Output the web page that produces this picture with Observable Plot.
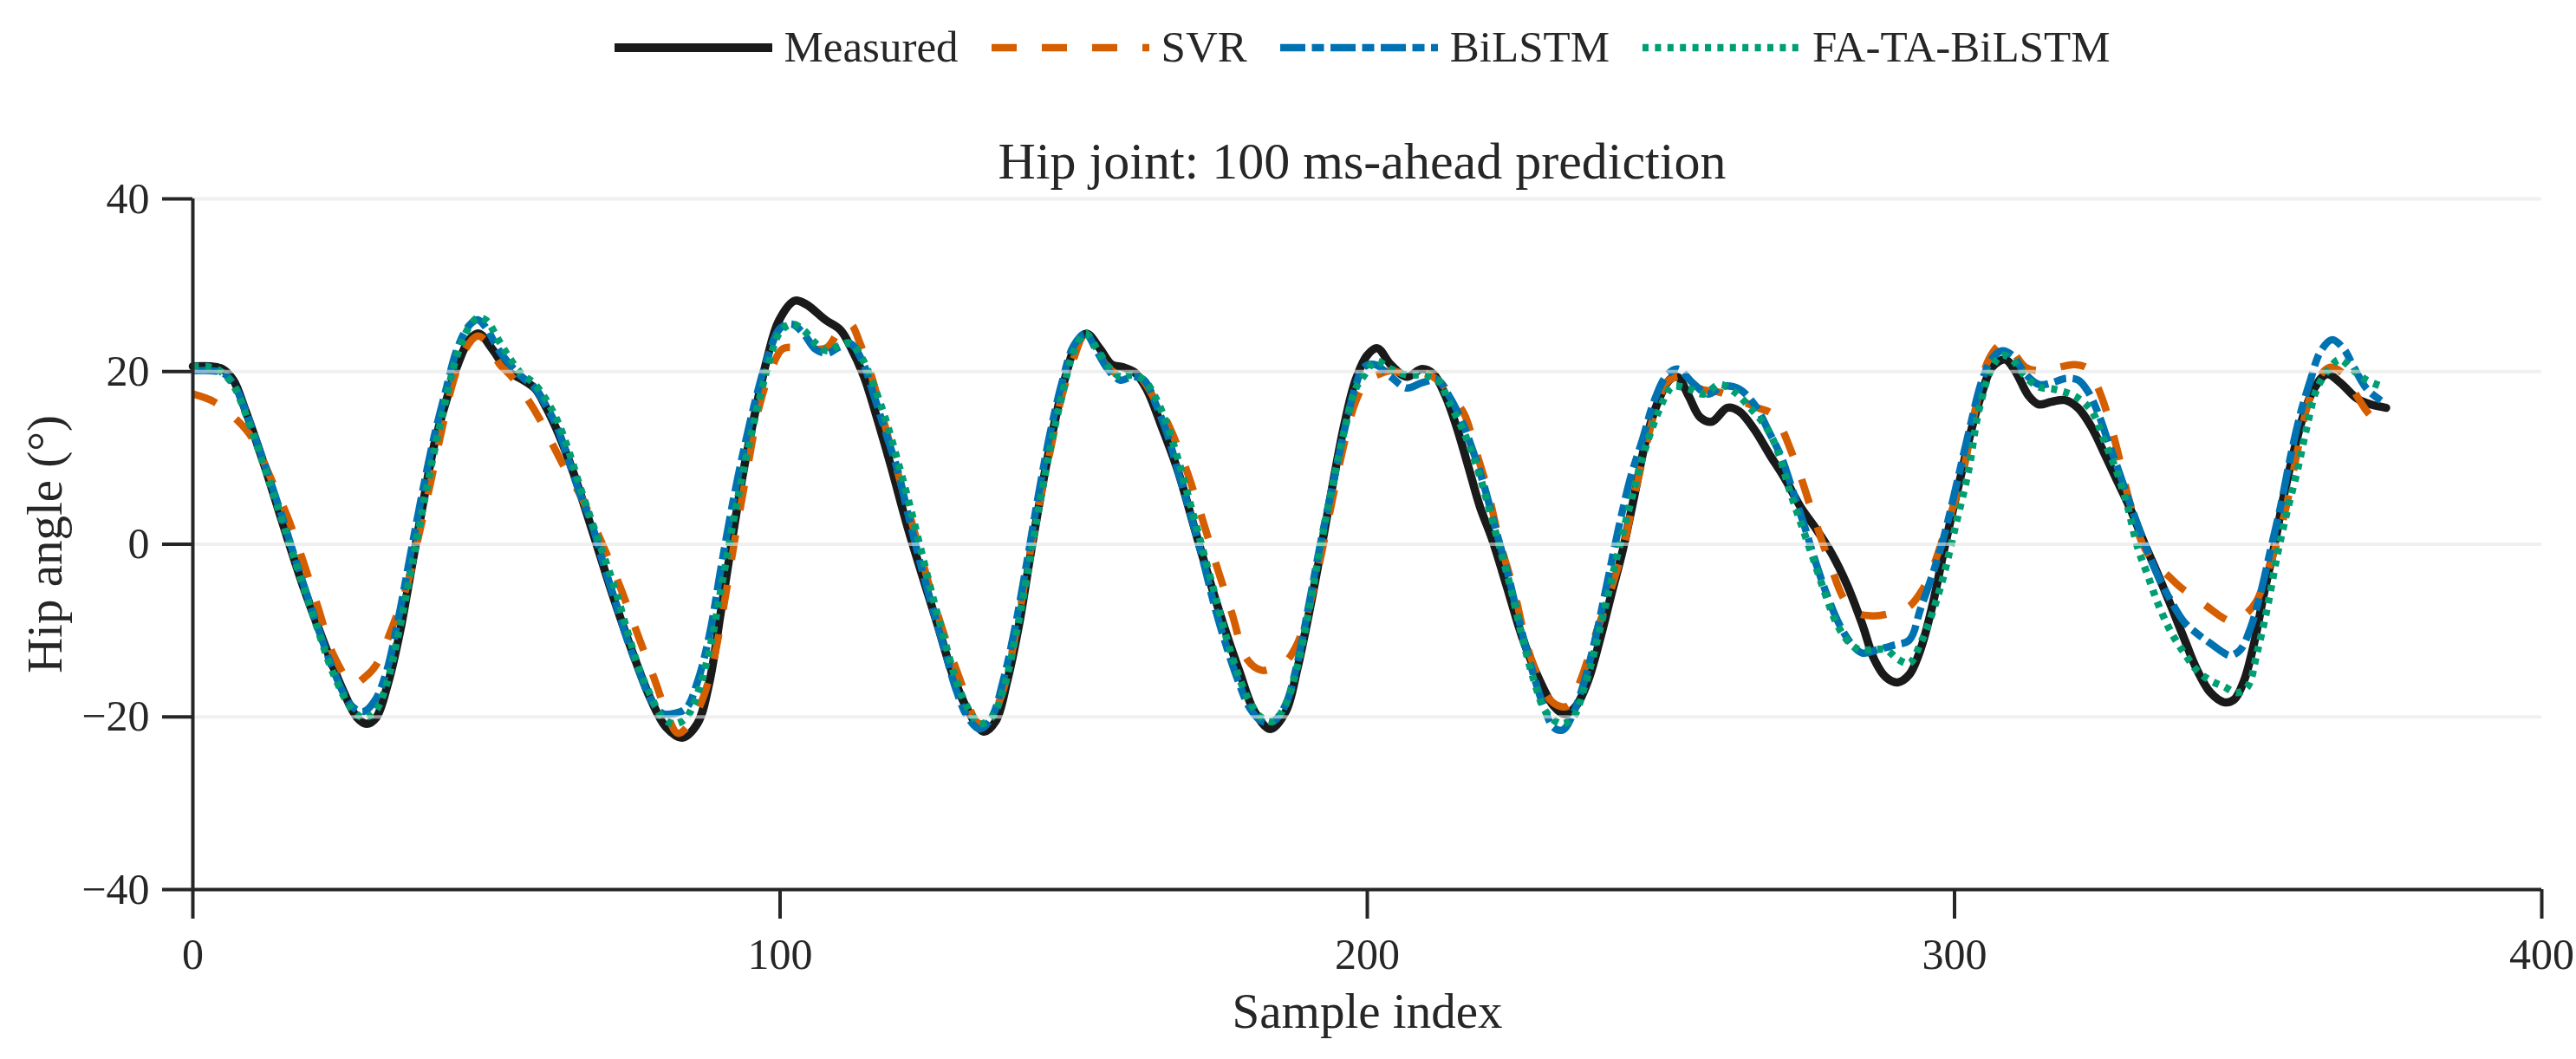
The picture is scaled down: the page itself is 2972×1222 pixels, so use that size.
<!DOCTYPE html>
<html>
<head>
<meta charset="utf-8">
<script src="https://cdn.jsdelivr.net/npm/d3@7"></script>
<script src="https://cdn.jsdelivr.net/npm/@observablehq/plot@0.6"></script>
<style>
  html, body { margin: 0; padding: 0; background: #fff; }
  #wrap { position: relative; width: 2972px; height: 1222px; font-family: "Liberation Serif", "Times New Roman", serif; color: #262626; background: #fff; }
  #chart { position: absolute; top: 200px; left: 0; z-index: 0; }
  #legend { position: absolute; top: 29px; left: 212px; width: 2719px; display: flex; justify-content: center; align-items: center; font-size: 51px; line-height: 51px; z-index: 1; }
  .item { display: flex; align-items: center; margin: 0 19px; }
  .item span { margin-left: 14px; white-space: nowrap; }
  #title { position: absolute; top: 156px; left: 212px; width: 2719px; text-align: center; font-size: 60px; line-height: 60px; white-space: nowrap; z-index: 1; }
</style>
</head>
<body>
<div id="wrap">
  <div id="chart"></div>
  <div id="legend"></div>
  <div id="title"></div>
</div>
<script>
// ---- text ----
const titleText = "Hip joint: 100 ms-ahead prediction";
const xLabel = "Sample index";
const yLabel = "Hip angle (°)";
const seriesNames = ["Measured", "SVR", "BiLSTM", "FA-TA-BiLSTM"];
const seriesColors = ["#1a1a1a", "#D55E00", "#0072B2", "#009E73"];
const seriesDash = [null, "29,29", "29,7.5,14,7.5", "7,7.4"];
const seriesWidth = [9.5, 8.5, 8.5, 8.5];
const xTicks = [0, 100, 200, 300, 400];
const yTicks = [-40, -20, 0, 20, 40];
const gridValues = [-20, 0, 20, 40];

// ---- data: [sample index, hip angle] ----
const measured = [[0,20.6],[3,20.6],[5,20.3],[6.9,19.0],[8.8,15.8],[12.1,9.3],[15.4,2.2],[18.7,-4.7],[22,-10.8],[25.3,-16.5],[28,-20.1],[29.6,-20.8],[31.2,-20.1],[33.2,-16.2],[35.2,-10.4],[37.2,-2.9],[39.2,4.7],[41.1,11.5],[43.1,16.5],[45.1,20.8],[47.1,23.7],[48.7,24.4],[51,22.6],[53.6,20.1],[56.3,19.0],[58.3,18.0],[60.2,15.8],[62.2,12.9],[64.8,8.3],[68.1,1.4],[71.4,-5.7],[74.7,-12.2],[78,-18],[80.6,-21.2],[83.3,-22.4],[85.9,-20.8],[87.9,-16.2],[89.9,-7.9],[91.8,0.4],[93.8,8.6],[95.8,15.4],[97.8,21.5],[99.8,25.9],[102.5,28.2],[104.4,27.8],[107.7,26],[110.3,24.8],[111.9,23],[114.3,19.4],[116.3,15.1],[118.9,9.0],[121.5,2.5],[124.2,-3.6],[126.8,-9.3],[129.4,-15.1],[132.1,-19.4],[134.7,-21.7],[136.7,-20.5],[138.7,-15.8],[140.7,-9.3],[142.6,-1.4],[144.6,6.5],[146.6,13.6],[148.6,19.4],[150.5,23.3],[152.2,24.4],[154.5,22.6],[156.5,20.8],[158.4,20.5],[160.4,19.9],[162.4,18],[165,13.6],[167.7,8.6],[170.3,2.5],[172.9,-3.6],[175.5,-9.3],[178.2,-14.7],[180.8,-19.4],[183.5,-21.4],[186.1,-19.4],[188.1,-14.4],[190.1,-7.9],[192.1,-0.7],[194,6.5],[196,13.6],[198,19.0],[200,21.9],[201.7,22.7],[204,20.8],[206.7,19.4],[209.3,20.3],[211.3,19.7],[213.3,17.2],[215.2,13.6],[217.2,9],[219.2,4.3],[221.2,0.7],[223.8,-5],[226.4,-10.8],[229.1,-15.4],[231.7,-18.7],[233.7,-19.7],[235.6,-18.7],[237.6,-15.8],[239.6,-11.1],[241.6,-5.7],[243.5,-0.7],[245.5,5.7],[247.5,12.2],[249.5,16.5],[251.4,19.0],[252.8,19.4],[254.7,17.2],[256.7,14.7],[258.7,14.2],[261.3,15.8],[263.3,15.4],[265.9,13.3],[268.5,10.4],[271.2,7.5],[273.8,4.3],[276.4,1.8],[279.1,-1.1],[281.7,-4.7],[284.3,-9.3],[286.3,-13.3],[288.3,-15.4],[290.3,-16],[292.3,-15.1],[294.2,-12.2],[296.2,-7.2],[298.2,-0.7],[299.6,3.6],[301.3,8.6],[303,13.6],[304.7,17.6],[306.4,20.5],[308.6,21.4],[310.3,20.1],[312.6,17.2],[314.3,16.2],[316.5,16.5],[318.8,16.7],[321,15.8],[323.3,13.6],[325.6,10.4],[327.8,7.2],[330,4],[332.4,0],[334.7,-3.6],[336.9,-7.2],[339.2,-11.1],[341.4,-14.7],[343.6,-17.2],[345.9,-18.3],[347.6,-18],[349.3,-15.8],[351,-11.5],[352.7,-5.7],[354.4,-0.4],[356.1,5.7],[357.8,10.8],[359.5,15.1],[361.2,18],[363.4,19.7],[365.7,18.7],[368.5,16.9],[370.8,16.2],[373.5,15.8]];

const svr = [[0,17.4],[3.6,16.5],[7.5,14.4],[10.2,12.2],[13.1,7.9],[16.1,3.2],[18.7,-1.8],[21.4,-7.5],[24,-12.9],[27.3,-16.2],[29.3,-15.4],[31.2,-14],[33.9,-9.7],[36.5,-4.7],[38.5,1.1],[40.5,7.2],[42.5,13.6],[44.4,19.0],[46.4,22.6],[48.4,24.1],[49.7,23.7],[52.3,20.8],[54.3,19.4],[56.9,16.9],[58.9,14.7],[61.6,11.1],[63.5,8.6],[66.2,5.4],[69.5,0.4],[72.8,-5.0],[76.1,-11.1],[78.7,-15.8],[80.6,-19.4],[82.6,-21.9],[84.6,-20.8],[86.6,-18.3],[88.5,-14],[90.5,-6.8],[92.5,1.4],[94.4,8.6],[96.4,15.8],[98.4,20.1],[100.4,22.6],[102.4,22.8],[105,22.6],[108,22.8],[110.5,25.2],[112,25.5],[113.6,23.3],[115.6,19.4],[117.6,14.4],[120.2,7.9],[122.9,1.4],[125.5,-5],[128.1,-10.8],[130.7,-15.8],[133.4,-20.5],[134.8,-21],[136,-20.1],[138,-16.9],[140,-10.8],[142,-3.2],[144,4.3],[146,10.8],[148,17.2],[150,21.5],[151.8,24.1],[153.8,22.6],[155.8,20.5],[158.4,19.4],[161.1,19.4],[163.7,16.9],[166.3,13.6],[169,9],[171.6,3.6],[174.2,-2.2],[176.9,-7.9],[179.5,-13.3],[182,-14.6],[184,-14.3],[186.1,-13.6],[188.1,-11.5],[190.1,-7.2],[192.1,-1.4],[194,5],[196,11.5],[198,16.5],[200,19.0],[202,19.7],[204,20.1],[206.7,19.7],[209.3,19.9],[212,19.0],[214.6,16.9],[216.5,15.1],[218.5,10.8],[220.4,6.5],[222.4,0.7],[225.1,-5.7],[227.1,-11.5],[229.1,-15.4],[231.1,-18],[233,-18.8],[234.3,-18.7],[236.3,-15.8],[238.9,-10.4],[240.9,-6.5],[243.6,-0.4],[245.5,5.7],[247.5,11.5],[249.5,16.5],[251.4,19],[254.1,19.4],[256.7,18],[260,17.6],[263.3,16.7],[266.5,15.8],[269.1,15.0],[272.8,9.7],[275.5,4.3],[278.3,-1.3],[281.4,-6.6],[283.6,-8.0],[286.3,-8.3],[289.6,-7.9],[292.3,-7.2],[294.6,-5.2],[296.2,-2.9],[298.2,1.1],[301.3,7.9],[303.6,15.8],[305.9,21.5],[308.1,23.2],[309.8,22.4],[312.1,20.5],[314.9,20.1],[317.8,20.5],[320.5,20.8],[322.8,20.3],[324.5,18],[326.2,14.7],[327.9,10.4],[329.5,5.7],[331.8,0.4],[334,-2.2],[336.3,-3.6],[338.5,-5],[340.8,-6.1],[343,-7.2],[345.9,-8.6],[347.6,-9],[349.9,-7.9],[351.5,-6.5],[353.3,-3.2],[355,0.4],[356.7,5],[358.4,10.8],[360,15.8],[361.7,19],[364,20.5],[366.3,19.7],[368.5,17.2],[370.2,15.4],[371.6,14.3]];

const bilstm = [[0,20.1],[3,20.1],[5,19.9],[7,18.5],[9,15.4],[12,9.7],[15,3.6],[18,-2.9],[21,-9],[24,-14.7],[27,-18.7],[29,-19.4],[31,-18.1],[33,-14.7],[35,-8.6],[37,-1.4],[39,5.7],[41,12.2],[43,17.6],[45,22.6],[47,25.3],[48.5,26],[50,25],[52,22.6],[54,20.8],[56,19.4],[58,18.3],[60,16.2],[62,13.6],[64,9.7],[66,5.7],[68,2.2],[70,-2.5],[72,-6.8],[74,-11.1],[76,-14.7],[78,-18],[80,-19.6],[82,-19.6],[84,-19],[86,-15.8],[88,-10.4],[90,-2.5],[92,5],[94,11.5],[96,17.2],[98,21.9],[100,25],[102,25.5],[104,24.4],[106,22.6],[108,22.1],[110,22.8],[112,23.2],[114,21.2],[116,17.2],[118,12.9],[120,8.6],[122,2.9],[124,-2.5],[126,-7.5],[128,-12.2],[130,-16.9],[132,-20.1],[134,-21.4],[136,-20.1],[138,-15.8],[140,-9.7],[142,-2.2],[144,5.7],[146,12.9],[148,18.7],[150,23],[152,24.4],[154,22.3],[156,20.1],[158,19],[160,19.4],[162,19],[164,16.2],[166,12.6],[168,7.9],[170,3.2],[172,-1.8],[174,-7.2],[176,-11.8],[178,-15.8],[180,-19],[182,-20.5],[184,-20.5],[186,-18.7],[188,-14],[190,-7.2],[192,0],[194,6.5],[196,12.9],[198,18.3],[199.4,20.5],[201.4,20.8],[204,19.4],[206.7,18.1],[209.3,18.7],[212,19],[213.9,17.2],[216,14.4],[218,10.8],[220,6.5],[222,1.4],[224,-3.6],[226,-9.3],[228,-14.4],[230,-18.7],[231.7,-21.2],[233.3,-21.5],[235,-19.7],[237,-15.8],[239,-10.4],[240.9,-4.3],[242.9,2.2],[244.9,7.9],[246.9,12.2],[248.8,16.5],[250.8,19.4],[252.8,20.3],[255.4,18.7],[258,17.4],[260.6,18.3],[263.3,18],[265.9,16.2],[268.5,12.9],[270.5,10.1],[272.5,6.1],[274.4,2.2],[276.4,-2.2],[278.4,-6.1],[280.4,-9.3],[282.4,-11.5],[284.3,-12.6],[287,-12.2],[289.6,-11.7],[292.3,-11.1],[294.2,-7.5],[296.2,-3.6],[298.2,0.9],[300.2,6.5],[302.4,12.9],[304.7,19],[306.4,21.5],[308.1,22.4],[309.8,21.9],[312.1,19.7],[314.4,18.5],[316.6,18.7],[318.9,19.2],[321.1,19],[322.8,17.6],[324.5,15.1],[326.2,11.8],[327.9,8.6],[330.1,4.3],[332.4,0],[334.6,-3.6],[336.8,-6.5],[339.1,-9],[341.4,-10.4],[343.6,-11.5],[345.9,-12.6],[347,-12.9],[348.7,-12.2],[350.4,-9.7],[352.1,-5.7],[353.8,-0.7],[355.5,4.3],[357.2,10.1],[358.9,15.1],[360.6,19],[362.3,22.3],[364.3,23.7],[366.3,22.6],[368,20.5],[370.2,18],[372.5,16.7],[373.6,16.2]];

const fatabilstm = [[0,20.6],[3,20.5],[5,19.9],[7,18.3],[9,15.1],[12,9.3],[15,3.2],[18,-3.2],[21,-9.3],[24,-15.1],[27,-19],[29,-20.1],[31,-19.4],[33,-16.2],[35,-10.4],[37,-3.6],[39,3.6],[41,10.4],[43,16.5],[45,21.9],[47,25.1],[48.5,26.2],[50,25.9],[52,23.7],[54,21.5],[56,19.7],[58,18.7],[60,16.9],[62,14.4],[64,10.8],[66,6.5],[68,2.5],[70,-1.4],[72,-5.4],[74,-10.1],[76,-14.4],[78,-17.6],[80,-20.1],[82,-20.8],[84,-20.1],[86,-17.2],[88,-12.2],[90,-5],[92,2.5],[94,9.3],[96,15.4],[98,20.8],[100,24.6],[102,25.5],[104,24.8],[106,23.3],[108,22.4],[110,23],[112,23.3],[114,21.5],[116,18.3],[118,14.4],[120,9.7],[122,4.7],[124,-0.7],[126,-6.1],[128,-11.1],[130,-15.8],[132,-19],[134,-20.8],[136,-20.1],[138,-16.9],[140,-11.1],[142,-3.9],[144,3.9],[146,11.1],[148,17.2],[150,22.3],[152,24.4],[154,22.6],[156,20.5],[158,19.4],[160,19.6],[162,19],[164,16.9],[166,13.6],[168,9.3],[170,4.3],[172,-0.7],[174,-5.7],[176,-10.8],[178,-15.1],[180,-18.3],[182,-20.1],[184,-20.5],[186,-18.7],[188,-14.4],[190,-7.9],[192,-0.4],[194,6.5],[196,12.9],[198,18],[199.4,19.5],[201.4,21.2],[204,20.3],[206.7,19.6],[209.3,19.6],[212,19],[213.9,16.5],[216.5,12.9],[218.5,9.3],[220.4,5],[222.4,0],[224.4,-5],[226.4,-10.8],[228.4,-15.8],[230.4,-19.4],[233,-20.8],[235,-20.1],[237,-16.5],[239,-11.5],[240.9,-6.1],[242.9,-0.4],[244.9,5],[246.9,10.1],[248.8,14],[250.8,17.2],[252,18.3],[254.7,18],[257.3,17.4],[260,18.5],[262.6,17.6],[265.2,15.8],[267.9,13.6],[269.9,10.8],[271.8,6.5],[273.8,2.5],[275.8,-1.4],[277.8,-5.4],[279.8,-9],[281.7,-11.1],[283.7,-12.2],[286.3,-12.2],[288.3,-12.2],[290.3,-13.3],[292.3,-13.8],[294.2,-11.5],[296.2,-8],[298,-4],[300.2,2.2],[302.4,8.6],[304.1,15.4],[306.4,20.5],[308.1,21.9],[309.8,21.4],[312.1,19.4],[314.4,18.2],[316.6,18],[318.9,17.6],[321.1,16.9],[323.4,15.4],[325.6,11.8],[327.9,7.9],[329.5,4.3],[331.2,-0.4],[332.9,-3.6],[334.6,-6.8],[336.8,-10.1],[339.1,-12.6],[341.4,-14.7],[343.6,-15.8],[345.9,-16.5],[348.1,-17.2],[349.9,-16.5],[351.5,-12.6],[353.3,-7.2],[355,-1.1],[356.7,4],[358.4,8.6],[360,13.6],[361.7,18],[364,20.5],[365.6,21.4],[368,20.1],[370.2,19],[372.7,18.3]];

const seriesData = [measured, svr, bilstm, fatabilstm];

// ---- legend & title (HTML) ----
document.getElementById("title").textContent = titleText;
const legend = d3.select("#legend");
seriesNames.forEach((name, i) => {
  const item = legend.append("div").attr("class", "item");
  const s = item.append("svg").attr("width", 182).attr("height", 20);
  const ln = s.append("line").attr("x1", 0).attr("x2", 182).attr("y1", 10).attr("y2", 10)
    .attr("stroke", seriesColors[i]).attr("stroke-width", i === 0 ? 10 : 8.5);
  if (seriesDash[i]) ln.attr("stroke-dasharray", seriesDash[i]);
  item.append("span").text(name);
});

// ---- chart ----
const font = "'Liberation Serif', 'Times New Roman', serif";
const lineMarks = seriesData.map((data, i) => Plot.line(data, {
  x: d => d[0], y: d => d[1],
  stroke: seriesColors[i],
  strokeWidth: seriesWidth[i],
  strokeDasharray: seriesDash[i] || undefined,
  strokeLinecap: i === 0 ? "round" : "butt",
  strokeLinejoin: "round",
  curve: "catmull-rom"
}));

const chart = Plot.plot({
  width: 2972,
  height: 1022,
  marginLeft: 222,
  marginRight: 40,
  marginTop: 29,
  marginBottom: 196,
  x: {domain: [xTicks[0], xTicks[xTicks.length - 1]]},
  y: {domain: [yTicks[0], yTicks[yTicks.length - 1]]},
  style: {fontFamily: font, fontSize: "50px", color: "#262626", background: "transparent", overflow: "visible"},
  marks: [
    ...lineMarks,
    Plot.ruleY(gridValues, {stroke: "#e6e6e6", strokeOpacity: 0.6, strokeWidth: 4}),
    Plot.ruleX([xTicks[0]], {stroke: "#262626", strokeWidth: 4}),
    Plot.ruleY([yTicks[0]], {stroke: "#262626", strokeWidth: 4}),
    Plot.axisX(xTicks, {tickSize: 34, tickPadding: 22, strokeWidth: 4, fontSize: 50, label: null, stroke: "#262626", fill: "#262626"}),
    Plot.axisY(yTicks, {tickSize: 35, tickPadding: 15, strokeWidth: 4, fontSize: 50, label: null, stroke: "#262626", fill: "#262626"}),
    Plot.text([xLabel], {text: d => d, frameAnchor: "bottom", dy: 159, lineAnchor: "bottom", textAnchor: "middle", fontSize: 57, fill: "#262626"}),
    Plot.text([yLabel], {text: d => d, frameAnchor: "left", dx: -152, rotate: -90, lineAnchor: "bottom", textAnchor: "middle", fontSize: 57, fill: "#262626"})
  ]
});
document.getElementById("chart").appendChild(chart);
</script>
</body>
</html>
